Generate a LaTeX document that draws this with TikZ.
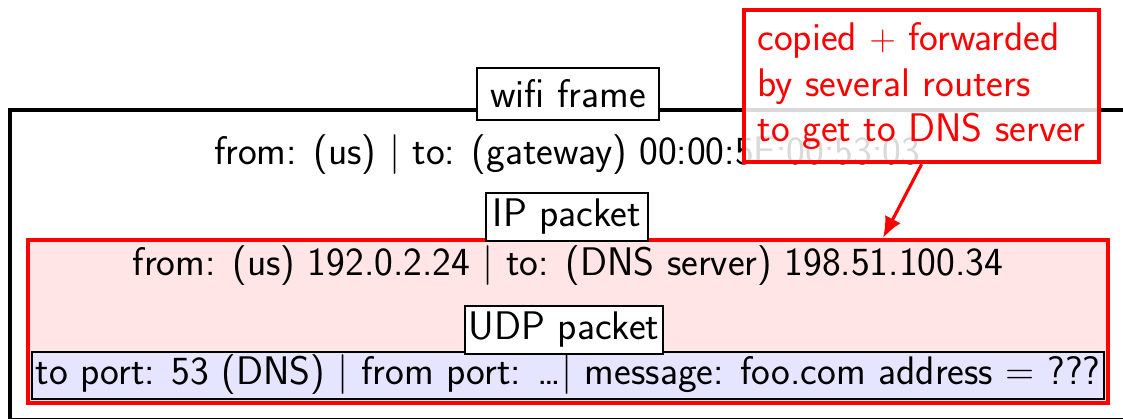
\documentclass[tikz,border=0pt]{standalone}
\usepackage{tikz}
\usetikzlibrary{arrows.meta}
\renewcommand{\familydefault}{\sfdefault}
\begin{document}
\begin{tikzpicture}[x=0.02cm,y=-0.02cm,
  every node/.style={font=\sffamily\fontsize{22.7}{27}\selectfont, inner sep=0pt},
  tag/.style={draw=black, fill=white, line width=0.6pt, inner sep=0pt},
  layer/.style={anchor=center},
  note/.style={draw=red, line width=2.4pt, fill=white, fill opacity=0.85, text opacity=1,
               text=red, align=left, inner sep=0pt, anchor=north west,
               font=\sffamily\fontsize{22.7}{26}\selectfont},
]
\useasboundingbox (0,0) rectangle (1123,419);
\clip (0,0) rectangle (1123,419);

% wifi frame (runs past the right edge)
\node[layer, draw=black, line width=2pt, minimum width=1140*0.02cm, minimum height=310*0.02cm]
  (wifi) at (580,265) {};
\node (wifitext) at (567,155) {from: (us) | to: (gateway) 00:00:5E:00:53:03};

% IP packet
\node[layer, draw=red, fill=red!10, line width=2pt, minimum width=1080*0.02cm, minimum height=163*0.02cm]
  (ip) at (568,321.5) {};
\node (iptext) at (568,266) {from: (us) 192.0.2.24 | to: (DNS server) 198.51.100.34};

% UDP packet
\node[layer, draw=black, fill=blue!10, line width=1.5pt, minimum width=1072*0.02cm, minimum height=47*0.02cm]
  (udp) at (568,375.5) {};
\node (udptext) at (568,375) {to port: 53 (DNS) | from port: \dots| message: foo.com address = ???};

% layer labels
\node[tag, minimum width=182*0.02cm, minimum height=52*0.02cm] (wifilabel) at (568,94) {wifi frame};
\node[tag, minimum width=162*0.02cm, minimum height=48*0.02cm] (iplabel) at (567,217) {IP packet};
\node[tag, minimum width=198*0.02cm, minimum height=48*0.02cm] (udplabel) at (564,330) {UDP packet};

% annotation
\node[note, minimum width=355*0.02cm, minimum height=152*0.02cm] (annot) at (742,8)
  {copied $+$ forwarded\\by several routers\\to get to DNS server};
\coordinate (ipmark) at (883,238);
\draw[red, line width=1.8pt, -{Latex[length=12pt,width=10pt]}] (annot.south) -- (ipmark);
\end{tikzpicture}
\end{document}
